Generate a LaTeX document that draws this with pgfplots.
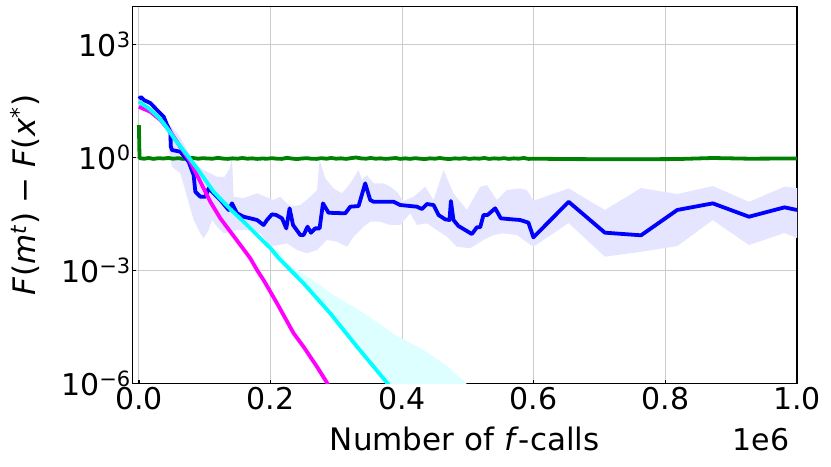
\documentclass[border=0pt]{standalone}
\usepackage{fontspec}
\setmainfont{DejaVu Sans}
\usepackage{pgfplots}
\pgfplotsset{compat=1.18}
\usepgfplotslibrary{fillbetween}

\definecolor{mplgreen}{RGB}{0,128,0}
\definecolor{mplblue}{RGB}{0,0,255}
\definecolor{mplmagenta}{RGB}{255,0,255}
\definecolor{mplcyan}{RGB}{0,255,255}
\definecolor{bandblue}{RGB}{229,229,255}
\definecolor{bandcyan}{RGB}{222,255,255}

\begin{document}
\begin{tikzpicture}
\begin{axis}[
  scale only axis, width=664.7pt, height=376.6pt,
  xmin=-10000, xmax=1000000,
  ymode=log, ymin=1e-6, ymax=1e4,
  xtick={0,200000,400000,600000,800000,1000000},
  xticklabels={0.0,0.2,0.4,0.6,0.8,1.0},
  scaled x ticks=false,
  ytick={1e-6,1e-3,1,1e3},
  yticklabels={10\textsuperscript{−6},10\textsuperscript{−3},10\textsuperscript{0},10\textsuperscript{3}},
  yminorticks=false,
  grid=major, grid style={gray!40, line width=0.8pt},
  tick align=inside, major tick length=3.5pt,
  tick style={black, line width=1.4pt},
  xtick pos=bottom, ytick pos=left,
  axis line style={black, line width=1.2pt},
  tick label style={font=\fontsize{30}{36}\selectfont},
  yticklabel style={xshift=2pt},
  label style={font=\fontsize{31}{37}\selectfont},
  xlabel={Number of \textit{f}-calls},
  ylabel={\textit{F}(\textit{m}\textsuperscript{\textit{t}}) − \textit{F}(\textit{x}\textsuperscript{*})},
  xlabel style={at={(axis description cs:0.5,-0.178)}, anchor=base},
  ylabel style={at={(axis description cs:-0.146,0.5)}, anchor=base},
  no markers,
  every axis plot/.append style={line join=round},
]
% blue band
\addplot[name path=bu, draw=none, forget plot] coordinates {
 (0,42)(17500,30)(37700,13)(47800,6.8)(58000,4.5)(68000,2.35)(83200,0.69)(98400,0.46)
 (118800,0.305)(130000,0.3)(138000,0.5)(141500,1.04)(144000,0.09)(159100,0.082)(179500,0.111)
 (204700,0.0735)(214900,0.09)(230100,0.0489)(245300,0.0542)(260500,0.09)(270600,0.1355)
 (274600,0.848)(283200,0.277)(295800,0.15)(308600,0.111)(321200,0.204)(333800,0.46)
 (339000,0.25)(346500,0.339)(356600,0.204)(371800,0.204)(381900,0.166)(392100,0.122)
 (401700,0.069)(417300,0.09)(435100,0.166)(447700,0.0735)(462900,0.46)(478000,0.111)
 (498400,0.04)(518600,0.166)(528800,0.184)(544000,0.0735)(559100,0.1355)(579300,0.15)
 (589500,0.1355)(599500,0.07)(653000,0.150)(708000,0.040)(763000,0.153)(818000,0.106)
 (872000,0.173)(927000,0.066)(981000,0.166)(1000000,0.153)};
\addplot[name path=bl, draw=none, forget plot] coordinates {
 (0,33)(17500,24)(37700,9.5)(44000,4)(45300,1.56)(50400,0.56)(63000,0.376)(73200,0.09)
 (83200,0.0217)(93400,0.0096)(98400,0.0071)(106000,0.0117)(111200,0.0217)(118800,0.0144)
 (128800,0.0096)(149100,0.0117)(164300,0.0117)(184500,0.0096)(199700,0.00424)(225100,0.0052)
 (240300,0.00346)(255400,0.00283)(270600,0.00346)(285800,0.0064)(301000,0.00575)
 (316200,0.00424)(326200,0.0078)(341400,0.0144)(351500,0.0195)(366700,0.0195)(381900,0.016)
 (397100,0.016)(412300,0.0326)(422500,0.016)(437700,0.0177)(452800,0.0117)(468000,0.0078)
 (483200,0.00424)(503400,0.00384)(523600,0.0064)(538800,0.00865)(554000,0.0096)
 (574300,0.00865)(584400,0.0064)(599500,0.00424)(653000,0.018)(708000,0.0023)(763000,0.0031)
 (818000,0.0044)(872000,0.0216)(927000,0.0047)(981000,0.0098)(1000000,0.0072)};
\addplot[bandblue, forget plot] fill between[of=bu and bl];
% cyan band
\addplot[name path=cu, draw=none, forget plot] coordinates {
 (180000,0.009)(189500,0.0062)(199700,0.0043)(214900,0.0030)(225100,1.56e-3)(250000,8.0e-4)
 (270600,4.6e-4)(290800,2.5e-4)(341400,7.4e-5)(392100,1.8e-5)(432500,7.7e-6)(468000,2.9e-6)
 (495800,1.05e-6)(511000,5.9e-7)};
\addplot[name path=cl, draw=none, forget plot] coordinates {
 (180000,0.0085)(189500,0.0055)(199700,0.0036)(212300,0.0019)(250300,4.0e-4)(290800,6.2e-5)
 (331400,8.0e-6)(376900,9.0e-7)(385000,5.5e-7)};
\addplot[bandcyan, forget plot] fill between[of=cu and cl];
% green
\addplot[mplgreen, line width=3.8pt] coordinates {
 (0,7.2)(1000,0.95)(8000,0.92)(15000,0.96)(22000,0.91)(30000,0.95)(37000,0.93)(45000,0.96)
 (52000,0.92)(60000,0.95)(67000,0.91)(75000,0.94)(82000,0.96)(90000,0.92)(97000,0.95)
 (105000,0.93)(112000,0.92)(120000,0.97)(127000,0.93)(135000,0.91)(142000,0.94)(150000,0.92)
 (157000,0.96)(165000,0.92)(172000,0.94)(180000,0.91)(187000,0.93)(195000,0.92)(202000,0.95)
 (210000,0.92)(217000,0.91)(225000,0.97)(232000,0.93)(240000,0.90)(247000,0.93)(255000,0.95)
 (262000,0.92)(270000,0.91)(277000,0.95)(285000,0.92)(292000,0.96)(300000,0.92)(307000,0.94)
 (315000,0.91)(322000,0.95)(330000,0.99)(337000,0.94)(345000,0.92)(352000,0.96)(360000,0.92)
 (367000,0.94)(375000,0.91)(382000,0.93)(390000,0.96)(397000,0.91)(405000,0.94)(412000,0.91)
 (420000,0.95)(427000,0.92)(435000,0.90)(442000,0.94)(450000,0.92)(457000,0.96)(465000,0.92)
 (472000,0.90)(480000,0.94)(487000,0.92)(495000,0.95)(502000,0.91)(510000,0.94)(517000,0.92)
 (525000,0.96)(532000,0.91)(540000,0.94)(547000,0.92)(555000,0.95)(562000,0.91)(570000,0.94)
 (577000,0.92)(585000,0.96)(592000,0.91)(599500,0.92)(653000,0.90)(708000,0.89)(763000,0.89)
 (818000,0.90)(872000,0.96)(927000,0.92)(981000,0.93)(1000000,0.93)};
% blue
\addplot[mplblue, line width=3.8pt] coordinates {
 (0,36)(3000,40)(8000,33)(17500,27.6)(27600,18)(37700,12)(42800,7.2)(47800,4.8)(48600,1.91)
 (50400,1.56)(63000,1.41)(75600,0.764)(83200,0.339)(85800,0.122)(93400,0.090)(101000,0.090)
 (106000,0.150)(113600,0.111)(123800,0.0735)(136400,0.040)(141500,0.060)(149100,0.0326)
 (159100,0.0265)(169300,0.024)(179500,0.0217)(189500,0.016)(194700,0.0217)(202300,0.0307)
 (208800,0.0294)(217500,0.024)(224000,0.013)(229000,0.0443)(234200,0.016)(245300,0.00865)
 (250300,0.00865)(256300,0.0144)(261500,0.00996)(268000,0.013)(274600,0.013)(279700,0.060)
 (288200,0.0338)(313600,0.0326)(321200,0.0489)(333800,0.0509)(343900,0.204)(351500,0.0735)
 (356600,0.0662)(386900,0.0662)(397100,0.0542)(422500,0.0489)(430100,0.0424)(437700,0.0576)
 (447700,0.0542)(455300,0.0294)(465400,0.0226)(472000,0.0217)(474100,0.0692)(478000,0.0217)
 (485600,0.015)(506000,0.0092)(513600,0.0139)(518600,0.0139)(523600,0.0294)(529700,0.0294)
 (541400,0.0443)(550000,0.024)(566700,0.0226)(579300,0.0217)(591900,0.0184)(599500,0.0075)
 (653000,0.066)(708000,0.010)(763000,0.0085)(818000,0.040)(872000,0.060)(927000,0.0265)
 (981000,0.047)(1000000,0.040)};
% magenta
\addplot[mplmagenta, line width=3.8pt] coordinates {
 (0,22)(17500,16.2)(32700,9.8)(47800,4.8)(63000,1.91)(78200,0.76)(93400,0.225)(108600,0.066)
 (123800,0.024)(139000,0.0106)(154200,0.0047)(169300,0.00208)(179500,0.00102)(189500,5.5e-4)
 (209900,1.33e-4)(235100,2.13e-5)(250300,9.3e-6)(270600,2.75e-6)(285800,1.04e-6)(290800,6.6e-7)};
% cyan
\addplot[mplcyan, line width=3.8pt] coordinates {
 (0,30)(15000,20)(30000,11.5)(37700,8.0)(55400,2.9)(73200,1.15)(88400,0.51)(113600,0.122)
 (139000,0.042)(164300,0.016)(189500,0.0058)(199700,0.0039)(212300,0.00212)(250300,4.5e-4)
 (290800,7.2e-5)(331400,9.4e-6)(376900,1.04e-6)(385000,6.6e-7)};
\end{axis}
\node[anchor=base east, font=\fontsize{30}{36}\selectfont] at ([shift={(-4pt,-67pt)}]current axis.south east) {1e6};
\path ([shift={(-132.3pt,-82.7pt)}]current axis.south west) rectangle ([shift={(34pt,6.7pt)}]current axis.north east);
\end{tikzpicture}
\end{document}
